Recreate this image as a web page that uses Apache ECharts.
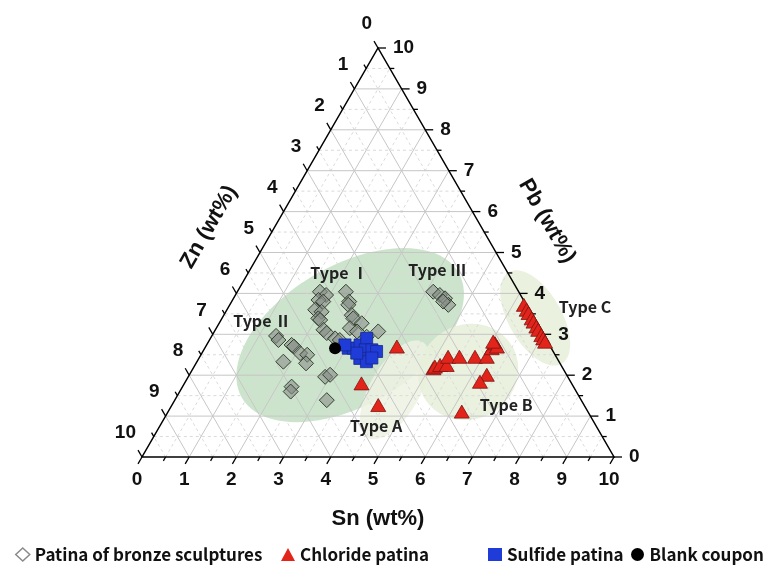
<!DOCTYPE html>
<html>
<head>
<meta charset="utf-8">
<script src="https://cdn.jsdelivr.net/npm/echarts@6/dist/echarts.min.js"></script>
<style>
  html, body { margin: 0; padding: 0; background: #fff; }
  #main { width: 764px; height: 567px; }
</style>
</head>
<body>
<div id="main"></div>
<script>
// ternary points, each [Sn, Pb, Zn] in wt% (sum = 10)
const ticks = [0, 1, 2, 3, 4, 5, 6, 7, 8, 9, 10]

const bronzePatina = [
  [1.75, 4.04, 4.21], [1.92, 3.96, 4.12], [1.82, 3.84, 4.34], [1.94, 3.80, 4.26],
  [1.87, 3.60, 4.53], [2.03, 3.55, 4.42], [2.04, 3.39, 4.57], [2.10, 3.35, 4.55],
  [2.29, 3.11, 4.60], [2.40, 3.03, 4.57], [2.30, 4.04, 3.66], [2.49, 3.80, 3.71],
  [2.51, 3.72, 3.77], [2.71, 3.47, 3.82], [2.78, 3.39, 3.83], [3.02, 3.27, 3.71],
  [2.83, 3.15, 4.02], [3.02, 3.07, 3.91], [2.64, 2.90, 4.46], [2.76, 2.86, 4.38],
  [3.47, 3.07, 3.46], [3.29, 2.94, 3.77],
  [1.36, 2.96, 5.68], [1.46, 2.86, 5.68], [1.80, 2.74, 5.46], [1.87, 2.70, 5.43],
  [1.83, 2.33, 5.84], [2.08, 2.54, 5.38], [2.25, 2.50, 5.25], [2.33, 2.29, 5.38],
  [2.31, 1.72, 5.97], [2.35, 1.60, 6.05], [2.90, 1.96, 5.14], [2.98, 2.01, 5.01],
  [3.22, 1.39, 5.39],
  [4.15, 4.04, 1.81], [4.33, 3.96, 1.71], [4.48, 3.88, 1.64], [4.63, 3.72, 1.65],
  [4.48, 3.80, 1.72]
]

const chloridePatina = [
  [4.05, 2.70, 3.25], [3.75, 1.80, 4.45], [4.37, 1.27, 4.36],
  [5.09, 2.17, 2.74], [5.10, 2.21, 2.69], [5.19, 2.25, 2.56], [5.33, 2.25, 2.42],
  [5.26, 2.45, 2.29], [5.50, 2.45, 2.05], [5.83, 2.45, 1.72], [6.08, 2.45, 1.47],
  [6.08, 2.66, 1.26], [6.09, 2.78, 1.13], [6.17, 2.70, 1.13], [6.03, 2.82, 1.15],
  [6.30, 2.01, 1.69], [6.24, 1.84, 1.92], [6.22, 1.11, 2.67],
  [6.23, 3.72, 0.05], [6.35, 3.60, 0.05], [6.43, 3.52, 0.05], [6.56, 3.39, 0.05],
  [6.64, 3.31, 0.05], [6.76, 3.19, 0.05], [6.84, 3.11, 0.05], [6.97, 2.98, 0.05],
  [7.05, 2.90, 0.05], [7.13, 2.82, 0.05]
]

const sulfidePatina = [
  [3.04, 2.66, 4.30], [3.15, 2.66, 4.19], [3.25, 2.74, 4.01], [3.31, 2.90, 3.79],
  [3.42, 2.62, 3.96], [3.56, 2.62, 3.82], [3.68, 2.58, 3.74], [3.41, 2.41, 4.18],
  [3.59, 2.33, 4.08], [3.28, 2.54, 4.18], [2.93, 2.74, 4.33], [3.66, 2.42, 3.92]
]

const blankCoupon = [[2.76, 2.66, 4.58]]

const typeNames = ['Type Ⅰ', 'Type Ⅱ', 'Type Ⅲ', 'Type A', 'Type B', 'Type C']
const typeAt = [
  [1.93, 4.50, 3.57], [0.88, 3.33, 5.79], [3.97, 4.57, 1.46],
  [4.58, 0.76, 4.66], [7.08, 1.27, 1.65], [7.55, 3.67, -1.22]
]

// shaded zones: centre [Sn, Pb, Zn], semi axes, tilt in degrees
const zones = [
  [2.92, 2.98, 4.10, 2.65, 1.48, 30],
  [4.54, 1.64, 3.82, 1.17, 0.53, 60],
  [5.87, 2.08, 2.05, 1.08, 1.0, 30],
  [6.63, 3.40, -0.03, 1.12, 0.56, -60]
]
const zoneColors = ['rgba(120,185,120,0.38)', 'rgba(238,243,226,0.88)', 'rgba(232,239,218,0.9)', 'rgba(232,239,218,0.9)']

const H = Math.sqrt(3) / 2
const toXY = (sn, pb, zn) => {
  const s = sn + pb + zn
  const a = sn / s * 10
  const b = pb / s * 10
  return [a + b / 2, b * H]
}
const steps = []
ticks.forEach(t => { steps.push(t); if (t < 10) steps.push(t + 0.5) })

const numFont = 'bold 19px "Liberation Sans", Arial, sans-serif'
const typeFont = 'bold 16px "Noto Sans CJK KR", sans-serif'
const titleFont = 'bold 22px "Liberation Sans", Arial, sans-serif'

const chart = echarts.init(document.getElementById('main'))

const gridItem = (params, api) => {
  const k = api.value(0)
  const major = Number.isInteger(k)
  const style = major
    ? { stroke: '#c6c6c6', lineWidth: 1 }
    : { stroke: '#dadada', lineWidth: 1, lineDash: [3, 3] }
  const seg = (p, q) => {
    const a = api.coord(p), b = api.coord(q)
    return { type: 'line', shape: { x1: a[0], y1: a[1], x2: b[0], y2: b[1] }, style }
  }
  return {
    type: 'group',
    children: [
      seg(toXY(0, k, 10 - k), toXY(10 - k, k, 0)),
      seg(toXY(k, 0, 10 - k), toXY(k, 10 - k, 0)),
      seg(toXY(10 - k, 0, k), toXY(0, 10 - k, k))
    ]
  }
}

const axisItem = (params, api) => {
  const k = api.value(0)
  const major = Number.isInteger(k)
  const len = major ? 8 : 4.5
  const kids = []
  const tick = (p, dx, dy) => {
    const a = api.coord(p)
    kids.push({ type: 'line', shape: { x1: a[0], y1: a[1], x2: a[0] + dx * len, y2: a[1] + dy * len }, style: { stroke: '#000', lineWidth: 1.3 } })
    return a
  }
  const sn = tick(toXY(k, 0, 10 - k), -0.5, H)
  const pb = tick(toXY(10 - k, k, 0), 1, 0)
  const zn = tick(toXY(0, 10 - k, k), -0.5, -H)
  if (major) {
    const txt = (x, y, align) => ({ type: 'text', x, y, style: { text: String(k), font: numFont, fill: '#111', align, verticalAlign: 'middle' } })
    kids.push(txt(sn[0] - 5, sn[1] + 23, 'center'))
    kids.push(txt(pb[0] + 15, pb[1], 'left'))
    kids.push(txt(zn[0] - 6, zn[1] - 24, 'right'))
  }
  return { type: 'group', children: kids }
}

const frameItem = (params, api) => {
  const pts = [toXY(0, 0, 10), toXY(10, 0, 0), toXY(0, 10, 0)].map(p => api.coord(p))
  return { type: 'polygon', shape: { points: pts }, style: { fill: 'none', stroke: '#000', lineWidth: 1.5 } }
}

const zoneItem = (params, api) => {
  const cx = api.value(0), cy = api.value(1)
  const a = api.value(2), b = api.value(3)
  const th = api.value(4) * Math.PI / 180
  const pts = []
  for (let i = 0; i < 90; i++) {
    const t = i / 90 * Math.PI * 2
    const ex = a * Math.cos(t), ey = b * Math.sin(t)
    pts.push(api.coord([cx + ex * Math.cos(th) - ey * Math.sin(th), cy + ex * Math.sin(th) + ey * Math.cos(th)]))
  }
  return { type: 'polygon', shape: { points: pts }, style: { fill: zoneColors[params.dataIndex] } }
}

const labelItem = (params, api) => {
  const p = api.coord([api.value(0), api.value(1)])
  return { type: 'text', x: p[0], y: p[1], style: { text: typeNames[params.dataIndex], font: typeFont, fill: '#222', align: 'center', verticalAlign: 'middle' } }
}

const legendText = { fontFamily: '"Noto Sans CJK KR", sans-serif', fontWeight: 'bold', fontSize: 17, color: '#111' }
const legendItem = (left, item) => ({
  left, top: 541, itemWidth: 14, itemHeight: 13, textStyle: legendText, data: [item]
})

chart.setOption({
  animation: false,
  grid: { left: 142, top: 48, width: 472, height: 409 },
  xAxis: { type: 'value', min: 0, max: 10, show: false },
  yAxis: { type: 'value', min: 0, max: 10 * H, show: false },
  legend: [
    legendItem(10, { name: 'Patina of bronze sculptures', icon: 'diamond', itemStyle: { color: '#fff', borderColor: '#8a8a8a', borderWidth: 1.5 } }),
    legendItem(276, { name: 'Chloride patina', icon: 'triangle', itemStyle: { color: '#e3241b', borderWidth: 0 } }),
    legendItem(483, { name: 'Sulfide patina', icon: 'rect', itemStyle: { color: '#1f3bd8', borderWidth: 0 } }),
    legendItem(626, { name: 'Blank coupon', icon: 'circle', itemStyle: { color: '#000', borderWidth: 0 } })
  ],
  graphic: [
    { type: 'text', x: 378, y: 519, style: { text: 'Sn (wt%)', font: titleFont, fill: '#111', align: 'center', verticalAlign: 'middle' } },
    { type: 'text', x: 209, y: 227, rotation: Math.PI / 3, style: { text: 'Zn (wt%)', font: titleFont, fill: '#111', align: 'center', verticalAlign: 'middle' } },
    { type: 'text', x: 547, y: 221, rotation: -Math.PI / 3, style: { text: 'Pb (wt%)', font: titleFont, fill: '#111', align: 'center', verticalAlign: 'middle' } }
  ],
  series: [
    {
      type: 'custom', name: 'zones', silent: true,
      renderItem: zoneItem,
      data: zones.map(z => toXY(z[0], z[1], z[2]).concat(z.slice(3)))
    },
    {
      type: 'custom', name: 'grid', silent: true,
      renderItem: gridItem,
      data: steps.filter(k => k > 0 && k < 10).map(k => [k, 0])
    },
    {
      type: 'custom', name: 'axes', silent: true,
      renderItem: axisItem,
      data: steps.map(k => [k, 0])
    },
    {
      type: 'custom', name: 'frame', silent: true,
      renderItem: frameItem,
      data: [[0, 0]]
    },
    {
      type: 'scatter', name: 'Patina of bronze sculptures',
      symbol: 'diamond', symbolSize: 15,
      itemStyle: { color: 'rgba(135,140,135,0.58)', borderColor: '#33402f', borderWidth: 1, opacity: 1 },
      data: bronzePatina.map(p => toXY(p[0], p[1], p[2]))
    },
    {
      type: 'scatter', name: 'Chloride patina',
      symbol: 'triangle', symbolSize: [15, 13],
      itemStyle: { color: '#e3241b', borderColor: '#7a1410', borderWidth: 0.8, opacity: 1 },
      data: chloridePatina.map(p => toXY(p[0], p[1], p[2]))
    },
    {
      type: 'scatter', name: 'Sulfide patina',
      symbol: 'rect', symbolSize: 12,
      itemStyle: { color: '#1f3bd8', borderColor: '#172a8a', borderWidth: 0.8, opacity: 1 },
      data: sulfidePatina.map(p => toXY(p[0], p[1], p[2]))
    },
    {
      type: 'scatter', name: 'Blank coupon',
      symbol: 'circle', symbolSize: 12,
      itemStyle: { color: '#000', opacity: 1 },
      data: blankCoupon.map(p => toXY(p[0], p[1], p[2]))
    },
    {
      type: 'custom', name: 'labels', silent: true,
      renderItem: labelItem,
      data: typeAt.map(p => toXY(p[0], p[1], p[2]))
    }
  ]
})
</script>
</body>
</html>
